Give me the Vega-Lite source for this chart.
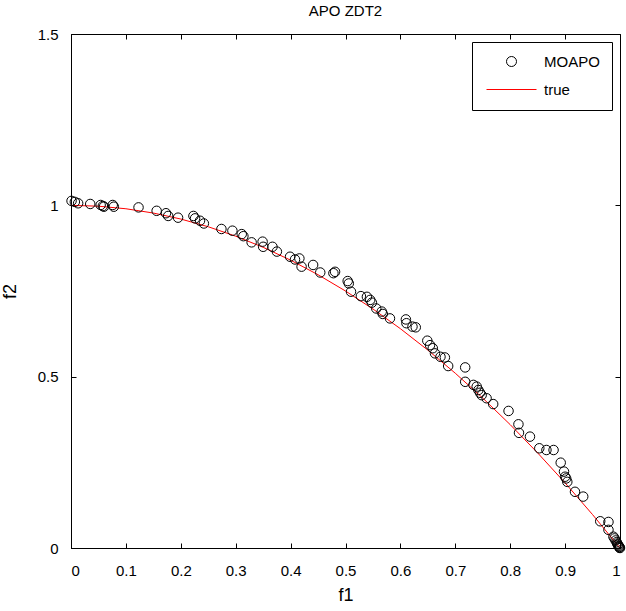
{
  "$schema": "https://vega.github.io/schema/vega-lite/v6.json",
  "width": 549,
  "height": 514,
  "autosize": "none",
  "padding": {"left": 71, "top": 34, "right": 6, "bottom": 63},
  "title": {"text": "APO ZDT2", "fontSize": 15, "fontWeight": "normal", "font": "Liberation Sans", "offset": 8, "color": "black"},
  "config": {
    "view": {"stroke": "black", "strokeWidth": 1},
    "font": "Liberation Sans",
    "axis": {
      "grid": false,
      "domainColor": "black",
      "tickColor": "black",
      "labelColor": "black",
      "titleColor": "black",
      "labelFont": "Liberation Sans",
      "titleFont": "Liberation Sans",
      "labelFontSize": 15,
      "titleFontSize": 18,
      "titleFontWeight": "normal",
      "tickSize": -5
    }
  },
  "datasets": {
    "moapo": [
      {"f1": 0.001, "f2": 1.013, "series": "MOAPO"},
      {"f1": 0.007, "f2": 1.010, "series": "MOAPO"},
      {"f1": 0.013, "f2": 1.006, "series": "MOAPO"},
      {"f1": 0.035, "f2": 1.004, "series": "MOAPO"},
      {"f1": 0.054, "f2": 1.001, "series": "MOAPO"},
      {"f1": 0.058, "f2": 0.998, "series": "MOAPO"},
      {"f1": 0.060, "f2": 0.996, "series": "MOAPO"},
      {"f1": 0.076, "f2": 1.001, "series": "MOAPO"},
      {"f1": 0.078, "f2": 0.996, "series": "MOAPO"},
      {"f1": 0.123, "f2": 0.994, "series": "MOAPO"},
      {"f1": 0.156, "f2": 0.984, "series": "MOAPO"},
      {"f1": 0.173, "f2": 0.977, "series": "MOAPO"},
      {"f1": 0.177, "f2": 0.969, "series": "MOAPO"},
      {"f1": 0.195, "f2": 0.964, "series": "MOAPO"},
      {"f1": 0.223, "f2": 0.969, "series": "MOAPO"},
      {"f1": 0.226, "f2": 0.962, "series": "MOAPO"},
      {"f1": 0.235, "f2": 0.955, "series": "MOAPO"},
      {"f1": 0.242, "f2": 0.947, "series": "MOAPO"},
      {"f1": 0.274, "f2": 0.931, "series": "MOAPO"},
      {"f1": 0.294, "f2": 0.926, "series": "MOAPO"},
      {"f1": 0.311, "f2": 0.916, "series": "MOAPO"},
      {"f1": 0.314, "f2": 0.910, "series": "MOAPO"},
      {"f1": 0.329, "f2": 0.892, "series": "MOAPO"},
      {"f1": 0.349, "f2": 0.894, "series": "MOAPO"},
      {"f1": 0.350, "f2": 0.879, "series": "MOAPO"},
      {"f1": 0.367, "f2": 0.879, "series": "MOAPO"},
      {"f1": 0.375, "f2": 0.865, "series": "MOAPO"},
      {"f1": 0.399, "f2": 0.850, "series": "MOAPO"},
      {"f1": 0.408, "f2": 0.842, "series": "MOAPO"},
      {"f1": 0.416, "f2": 0.845, "series": "MOAPO"},
      {"f1": 0.420, "f2": 0.821, "series": "MOAPO"},
      {"f1": 0.441, "f2": 0.826, "series": "MOAPO"},
      {"f1": 0.454, "f2": 0.804, "series": "MOAPO"},
      {"f1": 0.478, "f2": 0.802, "series": "MOAPO"},
      {"f1": 0.481, "f2": 0.806, "series": "MOAPO"},
      {"f1": 0.504, "f2": 0.779, "series": "MOAPO"},
      {"f1": 0.506, "f2": 0.772, "series": "MOAPO"},
      {"f1": 0.510, "f2": 0.748, "series": "MOAPO"},
      {"f1": 0.528, "f2": 0.735, "series": "MOAPO"},
      {"f1": 0.539, "f2": 0.733, "series": "MOAPO"},
      {"f1": 0.545, "f2": 0.724, "series": "MOAPO"},
      {"f1": 0.548, "f2": 0.716, "series": "MOAPO"},
      {"f1": 0.556, "f2": 0.699, "series": "MOAPO"},
      {"f1": 0.566, "f2": 0.690, "series": "MOAPO"},
      {"f1": 0.568, "f2": 0.683, "series": "MOAPO"},
      {"f1": 0.581, "f2": 0.670, "series": "MOAPO"},
      {"f1": 0.610, "f2": 0.667, "series": "MOAPO"},
      {"f1": 0.611, "f2": 0.656, "series": "MOAPO"},
      {"f1": 0.622, "f2": 0.646, "series": "MOAPO"},
      {"f1": 0.628, "f2": 0.644, "series": "MOAPO"},
      {"f1": 0.649, "f2": 0.605, "series": "MOAPO"},
      {"f1": 0.654, "f2": 0.592, "series": "MOAPO"},
      {"f1": 0.659, "f2": 0.583, "series": "MOAPO"},
      {"f1": 0.663, "f2": 0.568, "series": "MOAPO"},
      {"f1": 0.673, "f2": 0.558, "series": "MOAPO"},
      {"f1": 0.681, "f2": 0.556, "series": "MOAPO"},
      {"f1": 0.687, "f2": 0.531, "series": "MOAPO"},
      {"f1": 0.718, "f2": 0.527, "series": "MOAPO"},
      {"f1": 0.718, "f2": 0.485, "series": "MOAPO"},
      {"f1": 0.733, "f2": 0.476, "series": "MOAPO"},
      {"f1": 0.739, "f2": 0.471, "series": "MOAPO"},
      {"f1": 0.742, "f2": 0.461, "series": "MOAPO"},
      {"f1": 0.745, "f2": 0.453, "series": "MOAPO"},
      {"f1": 0.748, "f2": 0.446, "series": "MOAPO"},
      {"f1": 0.757, "f2": 0.437, "series": "MOAPO"},
      {"f1": 0.769, "f2": 0.420, "series": "MOAPO"},
      {"f1": 0.797, "f2": 0.400, "series": "MOAPO"},
      {"f1": 0.815, "f2": 0.361, "series": "MOAPO"},
      {"f1": 0.816, "f2": 0.336, "series": "MOAPO"},
      {"f1": 0.836, "f2": 0.325, "series": "MOAPO"},
      {"f1": 0.853, "f2": 0.291, "series": "MOAPO"},
      {"f1": 0.866, "f2": 0.286, "series": "MOAPO"},
      {"f1": 0.879, "f2": 0.286, "series": "MOAPO"},
      {"f1": 0.892, "f2": 0.249, "series": "MOAPO"},
      {"f1": 0.898, "f2": 0.223, "series": "MOAPO"},
      {"f1": 0.900, "f2": 0.208, "series": "MOAPO"},
      {"f1": 0.902, "f2": 0.203, "series": "MOAPO"},
      {"f1": 0.904, "f2": 0.193, "series": "MOAPO"},
      {"f1": 0.918, "f2": 0.164, "series": "MOAPO"},
      {"f1": 0.933, "f2": 0.150, "series": "MOAPO"},
      {"f1": 0.964, "f2": 0.078, "series": "MOAPO"},
      {"f1": 0.979, "f2": 0.076, "series": "MOAPO"},
      {"f1": 0.979, "f2": 0.053, "series": "MOAPO"},
      {"f1": 0.988, "f2": 0.033, "series": "MOAPO"},
      {"f1": 0.990, "f2": 0.028, "series": "MOAPO"},
      {"f1": 0.992, "f2": 0.022, "series": "MOAPO"},
      {"f1": 0.994, "f2": 0.017, "series": "MOAPO"},
      {"f1": 0.995, "f2": 0.013, "series": "MOAPO"},
      {"f1": 0.996, "f2": 0.010, "series": "MOAPO"},
      {"f1": 0.997, "f2": 0.007, "series": "MOAPO"},
      {"f1": 0.998, "f2": 0.005, "series": "MOAPO"},
      {"f1": 0.999, "f2": 0.003, "series": "MOAPO"},
      {"f1": 1.000, "f2": 0.000, "series": "MOAPO"},
      {"f1": 0.999, "f2": 0.001, "series": "MOAPO"}
    ],
    "front": [
      {"f1": 0.00, "f2": 1.0},
      {"f1": 0.05, "f2": 0.9975},
      {"f1": 0.10, "f2": 0.99},
      {"f1": 0.15, "f2": 0.9775},
      {"f1": 0.20, "f2": 0.96},
      {"f1": 0.25, "f2": 0.9375},
      {"f1": 0.30, "f2": 0.91},
      {"f1": 0.35, "f2": 0.8775},
      {"f1": 0.40, "f2": 0.84},
      {"f1": 0.45, "f2": 0.7975},
      {"f1": 0.50, "f2": 0.75},
      {"f1": 0.55, "f2": 0.6975},
      {"f1": 0.60, "f2": 0.64},
      {"f1": 0.65, "f2": 0.5775},
      {"f1": 0.70, "f2": 0.51},
      {"f1": 0.75, "f2": 0.4375},
      {"f1": 0.80, "f2": 0.36},
      {"f1": 0.85, "f2": 0.2775},
      {"f1": 0.90, "f2": 0.19},
      {"f1": 0.95, "f2": 0.0975},
      {"f1": 1.00, "f2": 0.0}
    ]
  },
  "layer": [
    {
      "data": {"name": "front"},
      "mark": {"type": "line", "color": "red", "strokeWidth": 1, "clip": true},
      "encoding": {
        "x": {"field": "f1", "type": "quantitative", "scale": {"domain": [0, 1], "nice": false},
              "axis": {"orient": "top", "labels": false, "title": null, "values": [0,0.1,0.2,0.3,0.4,0.5,0.6,0.7,0.8,0.9,1], "domain": false}},
        "y": {"field": "f2", "type": "quantitative", "scale": {"domain": [0, 1.5], "nice": false},
              "axis": {"orient": "right", "labels": false, "title": null, "values": [0,0.5,1,1.5], "domain": false}}
      }
    },
    {
      "data": {"name": "moapo"},
      "mark": {"type": "point", "filled": false, "size": 90, "strokeWidth": 1, "opacity": 1},
      "encoding": {
        "x": {"field": "f1", "type": "quantitative", "scale": {"domain": [0, 1], "nice": false},
              "axis": {"orient": "bottom", "title": "f1", "values": [0,0.1,0.2,0.3,0.4,0.5,0.6,0.7,0.8,0.9,1], "format": "~g", "labelPadding": 20, "titlePadding": 8}},
        "y": {"field": "f2", "type": "quantitative", "scale": {"domain": [0, 1.5], "nice": false},
              "axis": {"orient": "left", "title": "f2", "values": [0,0.5,1,1.5], "format": "~g", "labelPadding": 18, "titlePadding": 18}},
        "color": {"field": "series", "type": "nominal",
                  "scale": {"domain": ["MOAPO", "true"], "range": ["#000000", "#ff0000"]},
                  "legend": {"title": null, "orient": "top-right", "offset": 8, "strokeColor": "black", "fillColor": "white",
                             "padding": 12, "labelFontSize": 15, "labelFont": "Liberation Sans", "labelColor": "black",
                             "symbolSize": 100, "symbolStrokeWidth": 1, "symbolOffset": 20, "labelOffset": 25, "rowPadding": 12,
                             "symbolStrokeColor": {"expr": "datum.label === 'true' ? '#ff0000' : '#000000'"}}},
        "shape": {"field": "series", "type": "nominal",
                  "scale": {"domain": ["MOAPO", "true"], "range": ["circle", "M-5,0L5,0"]},
                  "legend": {"title": null, "orient": "top-right", "offset": 8, "strokeColor": "black", "fillColor": "white",
                             "padding": 12, "labelFontSize": 15, "labelFont": "Liberation Sans", "labelColor": "black",
                             "symbolSize": 100, "symbolStrokeWidth": 1, "symbolOffset": 20, "labelOffset": 25, "rowPadding": 12,
                             "symbolStrokeColor": {"expr": "datum.label === 'true' ? '#ff0000' : '#000000'"}}}
      }
    }
  ],
  "resolve": {"axis": {"x": "independent", "y": "independent"}}
}
